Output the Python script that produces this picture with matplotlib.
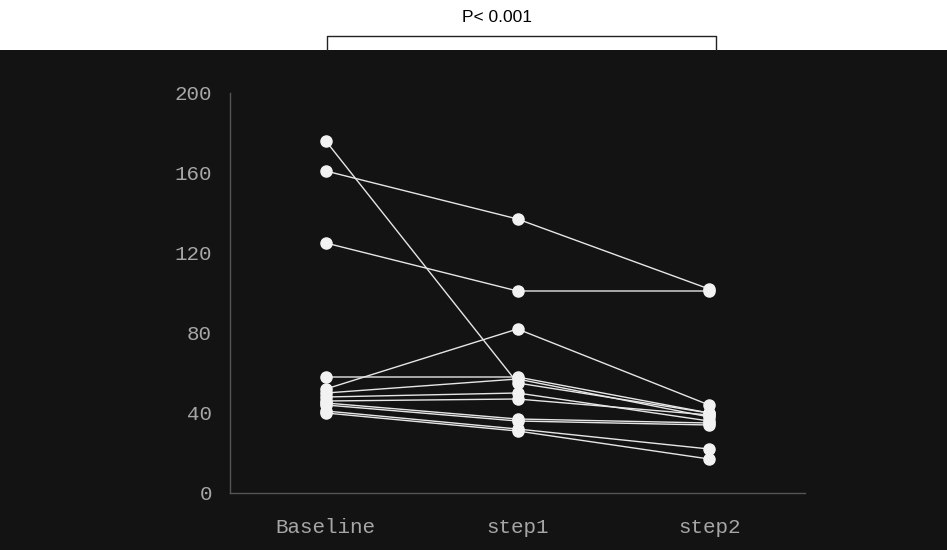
import matplotlib
matplotlib.use("Agg")
import matplotlib.pyplot as plt

# %%
# paired values per subject
GROUPS = ["Baseline", "step1", "step2"]
baseline = [176, 161, 125, 52, 58, 50, 48, 46, 45, 44, 41, 40]
step1 = [55, 137, 101, 82, 58, 57, 50, 47, 37, 36, 32, 31]
step2 = [40, 102, 101, 44, 40, 38, 36, 39, 35, 34, 22, 17]
Y_TICKS = [0, 40, 80, 120, 160, 200]
P_TEXT = "P< 0.001"

# %%
fig = plt.figure(figsize=(9.47, 5.5), dpi=100, facecolor="white")

# dark panel under the white strip at the top
bg = fig.add_axes([0, 0, 1, (550 - 49.5) / 550], zorder=0)
bg.set_facecolor("#131313")
bg.set_xticks([])
bg.set_yticks([])
for sp in bg.spines.values():
    sp.set_visible(False)

ax = fig.add_axes([230 / 947, 57 / 550, 575 / 947, 400 / 550], zorder=1)
ax.set_facecolor("none")

xpos = range(len(GROUPS))
for vals in zip(baseline, step1, step2):
    ax.plot(xpos, vals, color="#e6e6e6", linewidth=1.0, marker="o",
            markersize=8, markerfacecolor="#f2f2f2",
            markeredgecolor="#f2f2f2", zorder=3)

ax.set_xlim(-0.5, 2.5)
ax.set_ylim(0, 200)
ax.set_xticks(list(xpos))
ax.set_xticklabels(GROUPS)
ax.set_yticks(Y_TICKS)

for side in ["top", "right"]:
    ax.spines[side].set_visible(False)
for side in ["left", "bottom"]:
    ax.spines[side].set_color("#555555")
    ax.spines[side].set_linewidth(1.0)

ax.tick_params(axis="both", length=0, colors="#a6a6a6", labelsize=15)
ax.tick_params(axis="y", pad=13)
ax.tick_params(axis="x", pad=18)
for lab in ax.get_xticklabels() + ax.get_yticklabels():
    lab.set_family("Liberation Mono")

# significance bracket on the white strip
bx0, bx1 = 327 / 947, 716 / 947
by_top, by_bot = 1 - 36 / 550, 1 - 50 / 550
fig.add_artist(plt.Line2D([bx0, bx0, bx1, bx1],
                          [by_bot, by_top, by_top, by_bot],
                          transform=fig.transFigure, color="#222222",
                          linewidth=1.0))
fig.text(497 / 947, 1 - 18 / 550, P_TEXT, ha="center", va="center",
         fontsize=12.5, family="Liberation Sans", color="black")

fig.savefig("out.png", dpi=100, facecolor="white")
